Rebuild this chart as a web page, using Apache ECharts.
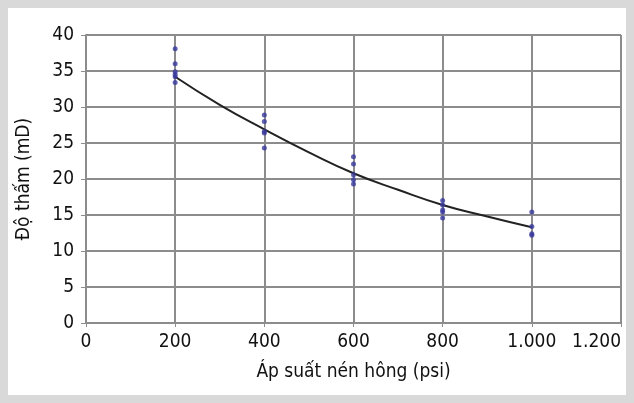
<!DOCTYPE html>
<html>
<head>
<meta charset="utf-8">
<script src="https://cdn.jsdelivr.net/npm/echarts@6/dist/echarts.min.js"></script>
<style>
  html, body { margin: 0; padding: 0; background: #fff; }
  #chart { width: 634px; height: 403px; }
</style>
</head>
<body>
<div id="chart"></div>
<script>
// measured points (pressure psi, permeability mD)
var p200 = [38.1, 36.0, 34.9, 34.5, 34.2, 33.4];
var p400 = [28.9, 28.0, 26.6, 26.4, 24.3];
var p600 = [23.1, 22.1, 20.6, 19.9, 19.3];
var p800 = [17.0, 16.4, 15.7, 15.4, 14.6];
var p1000 = [15.4, 13.4, 12.4, 12.2];
var pressures = [200, 400, 600, 800, 1000];
// trend line
var trendX = [200, 300, 400, 500, 600, 700, 800, 900, 1000];
var trendY = [34.2, 30.3, 26.9, 23.7, 20.8, 18.5, 16.4, 14.8, 13.3];

var groups = [p200, p400, p600, p800, p1000];
var scatterData = [];
groups.forEach(function (g, i) {
  g.forEach(function (v) { scatterData.push([pressures[i], v]); });
});
var trendData = trendX.map(function (x, i) { return [x, trendY[i]]; });

var font = "'DejaVu Sans Condensed', 'Liberation Sans Narrow', sans-serif";
var myChart = echarts.init(document.getElementById('chart'));
var option = {
  backgroundColor: '#fff',
  animation: false,
  graphic: [{
    type: 'rect',
    shape: { x: 4, y: 4, width: 626, height: 395 },
    style: { fill: 'none', stroke: '#d9d9d9', lineWidth: 8 },
    silent: true
  }],
  grid: { left: 86, right: 13, top: 35, bottom: 80 },
  xAxis: {
    type: 'value',
    min: 0, max: 1200, interval: 200,
    name: 'Áp suất nén hông (psi)',
    nameLocation: 'middle',
    nameGap: 40,
    nameTextStyle: { fontFamily: font, fontSize: 19, color: '#111' },
    axisLine: { show: true, lineStyle: { color: '#8c8c8c', width: 2 } },
    axisTick: { show: true, length: 4, lineStyle: { color: '#8c8c8c' } },
    splitLine: { show: true, lineStyle: { color: '#8c8c8c', width: 2 } },
    axisLabel: {
      fontFamily: font, fontSize: 19, color: '#111', margin: 10,
      showMaxLabel: true,
      alignMaxLabel: 'right',
      formatter: function (v) { return v >= 1000 ? (v / 1000 | 0) + '.' + ('00' + (v % 1000)).slice(-3) : String(v); }
    }
  },
  yAxis: {
    type: 'value',
    min: 0, max: 40, interval: 5,
    name: 'Độ thấm (mD)',
    nameLocation: 'middle',
    nameGap: 52,
    nameTextStyle: { fontFamily: font, fontSize: 19, color: '#111' },
    axisLine: { show: true, lineStyle: { color: '#8c8c8c', width: 2 } },
    axisTick: { show: true, length: 5, lineStyle: { color: '#8c8c8c' } },
    splitLine: { show: true, lineStyle: { color: '#8c8c8c', width: 2 } },
    axisLabel: { fontFamily: font, fontSize: 19, color: '#111', margin: 12 }
  },
  series: [
    {
      type: 'line',
      data: trendData,
      smooth: true,
      showSymbol: false,
      lineStyle: { color: '#222', width: 2 },
      z: 3
    },
    {
      type: 'scatter',
      data: scatterData,
      symbol: 'circle',
      symbolSize: 5,
      itemStyle: { color: '#3a3a9e' },
      z: 4
    }
  ]
};
myChart.setOption(option);
</script>
</body>
</html>
